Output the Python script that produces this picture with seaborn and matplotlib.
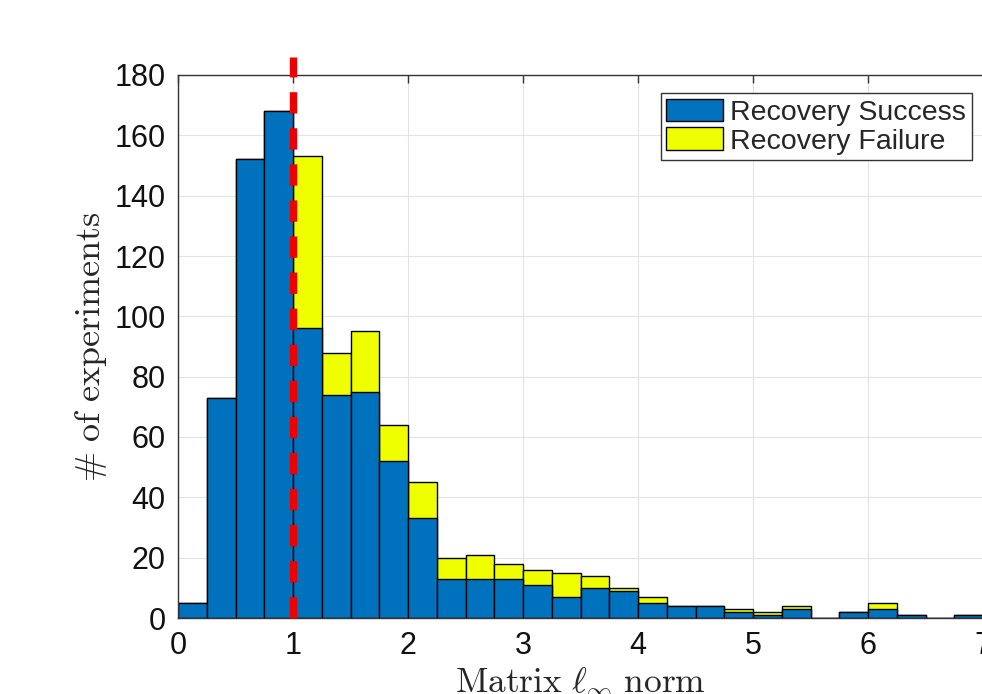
import numpy as np
import pandas as pd
import matplotlib
matplotlib.use("Agg")
import matplotlib.pyplot as plt
import seaborn as sns
from matplotlib.patches import Patch

# Histogram data (bins of width 0.25 from 0 to 7)
bin_width = 0.25
x_max = 7
success = [5, 73, 152, 168, 96, 74, 75, 52, 33, 13, 13, 13, 11, 7,
           10, 9, 5, 4, 4, 2, 1, 3, 0, 2, 3, 1, 0, 1]
failure = [0, 0, 0, 0, 57, 14, 20, 12, 12, 7, 8, 5, 5, 8,
           4, 1, 2, 0, 0, 1, 1, 1, 0, 0, 2, 0, 0, 0]
threshold = 1.0

centers = np.arange(len(success)) * bin_width + bin_width / 2
df = pd.DataFrame({
    "norm": centers,
    "success": success,
    "total": np.array(success) + np.array(failure),
})

sns.set_style("white")
plt.rcParams["font.family"] = ["Liberation Sans", "DejaVu Sans"]
plt.rcParams["mathtext.fontset"] = "cm"

blue = "#0072BD"
yellow = "#F0FF00"

fig = plt.figure(figsize=(9.82, 6.94), dpi=100)
ax = fig.add_axes([178 / 982, 1 - 618 / 694, 805 / 982, 543 / 694])

# total first (yellow), success on top (blue) -> stacked look
sns.histplot(data=df, x="norm", weights="total", binwidth=bin_width,
             binrange=(0, x_max), color=yellow, alpha=1, edgecolor="black",
             linewidth=1, ax=ax)
sns.histplot(data=df, x="norm", weights="success", binwidth=bin_width,
             binrange=(0, x_max), color=blue, alpha=1, edgecolor="black",
             linewidth=1, ax=ax)

ax.set_xlim(0, x_max)
ax.set_ylim(0, 180)
ax.set_xticks(range(0, 8))
ax.set_yticks(range(0, 181, 20))
ax.grid(True, color="#e3e3e3", linewidth=0.8)
ax.set_axisbelow(True)
ax.tick_params(direction="in", length=6, width=1, color="#333333",
               labelsize=22, labelcolor="#111111", top=True, right=False, pad=9)
for s in ax.spines.values():
    s.set_color("#333333")
    s.set_linewidth(1)

ax.plot([threshold, threshold], [0, 186], color="#EE0000", linewidth=5.3,
        linestyle=(0, (2.9, 2.0)), solid_capstyle="butt",
        dash_capstyle="butt", clip_on=False, zorder=5)

ax.set_xlabel(r"$\mathrm{Matrix}\ \ell_\infty\ \mathrm{norm}$", fontsize=25.5, labelpad=4)
ax.set_ylabel(r"$\mathrm{\#\ of\ experiments}$", fontsize=26, labelpad=4)

handles = [Patch(facecolor=blue, edgecolor="black", label="Recovery Success"),
           Patch(facecolor=yellow, edgecolor="black", label="Recovery Failure")]
leg = ax.legend(handles=handles, loc="upper right",
                bbox_to_anchor=(972 / 982, 1 - 93 / 694),
                bbox_transform=fig.transFigure, fontsize=20.5, frameon=True,
                fancybox=False, handlelength=2.0, handleheight=0.85,
                handletextpad=0.25, borderpad=0.2, labelspacing=0.05,
                borderaxespad=0)
leg.get_frame().set_edgecolor("#333333")
leg.get_frame().set_linewidth(1)
leg.get_frame().set_alpha(1)

plt.savefig("out.png", dpi=100)
